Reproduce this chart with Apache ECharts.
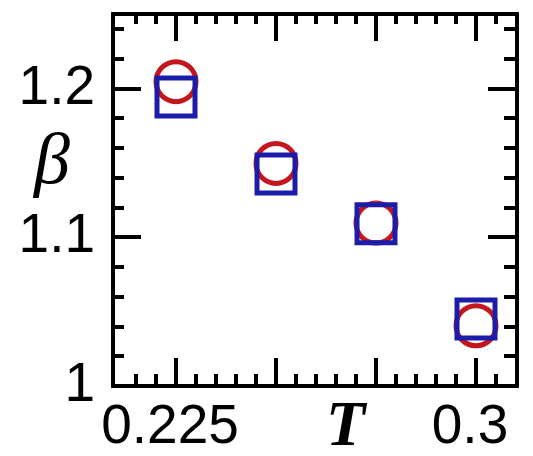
<!DOCTYPE html>
<html>
<head>
<meta charset="utf-8">
<script src="https://cdn.jsdelivr.net/npm/echarts@6/dist/echarts.min.js"></script>
<style>
  html, body { margin: 0; padding: 0; background: #fff; }
  #chart { width: 533px; height: 456px; }
</style>
</head>
<body>
<div id="chart"></div>
<script>
// Temperatures and the fitted exponent beta for the two estimates
const temperatures = [0.225, 0.25, 0.275, 0.3];
const betaCircle = [1.2045, 1.1496, 1.1095, 1.0405];
const betaSquare = [1.1942, 1.1425, 1.109, 1.045];

// Axis ranges and tick values
const xRange = [0.20925, 0.31025];
const yRange = [1.0, 1.25];
const xMajorTicks = [0.225, 0.25, 0.275, 0.3];
const xMinorTicks = [0.215, 0.22, 0.23, 0.235, 0.24, 0.245, 0.255, 0.26, 0.265, 0.27,
                     0.28, 0.285, 0.29, 0.295, 0.305];
const xTickLabels = [0.225, 0.3];
const yMajorTicks = [1.1, 1.2];
const yMinorTicks = [1.02, 1.04, 1.06, 1.08, 1.12, 1.14, 1.16, 1.18, 1.22, 1.24];
const yTickLabels = [1, 1.1, 1.2];

const black = '#000';
const labelFont = { fontFamily: 'Liberation Sans', fontSize: 55, color: black };

function xAxisDef(position, ticks, len, labels) {
  return {
    type: 'value', position: position, min: xRange[0], max: xRange[1],
    axisLine: { show: true, onZero: false, lineStyle: { color: black, width: 4 } },
    axisTick: { show: true, inside: true, length: len, customValues: ticks,
                lineStyle: { color: black, width: 4 } },
    axisLabel: labels ? Object.assign({ show: true, customValues: labels, margin: 14,
                padding: [0, 12, 0, 0], formatter: v => String(v) }, labelFont)
                      : { show: false },
    splitLine: { show: false }
  };
}
function yAxisDef(position, ticks, len, labels) {
  return {
    type: 'value', position: position, min: yRange[0], max: yRange[1],
    axisLine: { show: true, onZero: false, lineStyle: { color: black, width: 4 } },
    axisTick: { show: true, inside: true, length: len, customValues: ticks,
                lineStyle: { color: black, width: 4 } },
    axisLabel: labels ? Object.assign({ show: true, customValues: labels, margin: 18,
                padding: [6, 0, 0, 0], formatter: v => String(v) }, labelFont)
                      : { show: false },
    splitLine: { show: false }
  };
}

const chart = echarts.init(document.getElementById('chart'), null, { renderer: 'canvas' });
chart.setOption({
  animation: false,
  backgroundColor: '#fff',
  grid: { left: 113, right: 16, top: 14, bottom: 70, containLabel: false },
  xAxis: [
    xAxisDef('bottom', xMajorTicks, 28, xTickLabels),
    xAxisDef('bottom', xMinorTicks, 12, null),
    xAxisDef('top', xMajorTicks, 27, null),
    xAxisDef('top', xMinorTicks, 10, null)
  ],
  yAxis: [
    yAxisDef('left', yMajorTicks, 28, yTickLabels),
    yAxisDef('left', yMinorTicks, 11, null),
    yAxisDef('right', yMajorTicks, 29, null),
    yAxisDef('right', yMinorTicks, 13, null)
  ],
  graphic: [
    { type: 'text', left: 34, top: 128,
      style: { text: 'β', fontFamily: 'Liberation Serif', fontStyle: 'italic',
               fontSize: 72, fill: black } },
    { type: 'text', left: 326, top: 396,
      style: { text: 'T', fontFamily: 'Liberation Serif', fontStyle: 'italic',
               fontWeight: 'bold', fontSize: 64, fill: black } }
  ],
  series: [
    {
      type: 'scatter', xAxisIndex: 0, yAxisIndex: 0,
      data: temperatures.map((t, i) => [t, betaCircle[i]]),
      symbol: 'circle', symbolSize: 40,
      itemStyle: { color: 'rgba(0,0,0,0)', borderColor: '#c4161c', borderWidth: 5, opacity: 1 },
      z: 2
    },
    {
      type: 'scatter', xAxisIndex: 0, yAxisIndex: 0,
      data: temperatures.map((t, i) => [t, betaSquare[i]]),
      symbol: 'rect', symbolSize: 38,
      itemStyle: { color: 'rgba(0,0,0,0)', borderColor: '#1c1caa', borderWidth: 5, opacity: 1 },
      z: 3
    }
  ]
});
</script>
</body>
</html>
